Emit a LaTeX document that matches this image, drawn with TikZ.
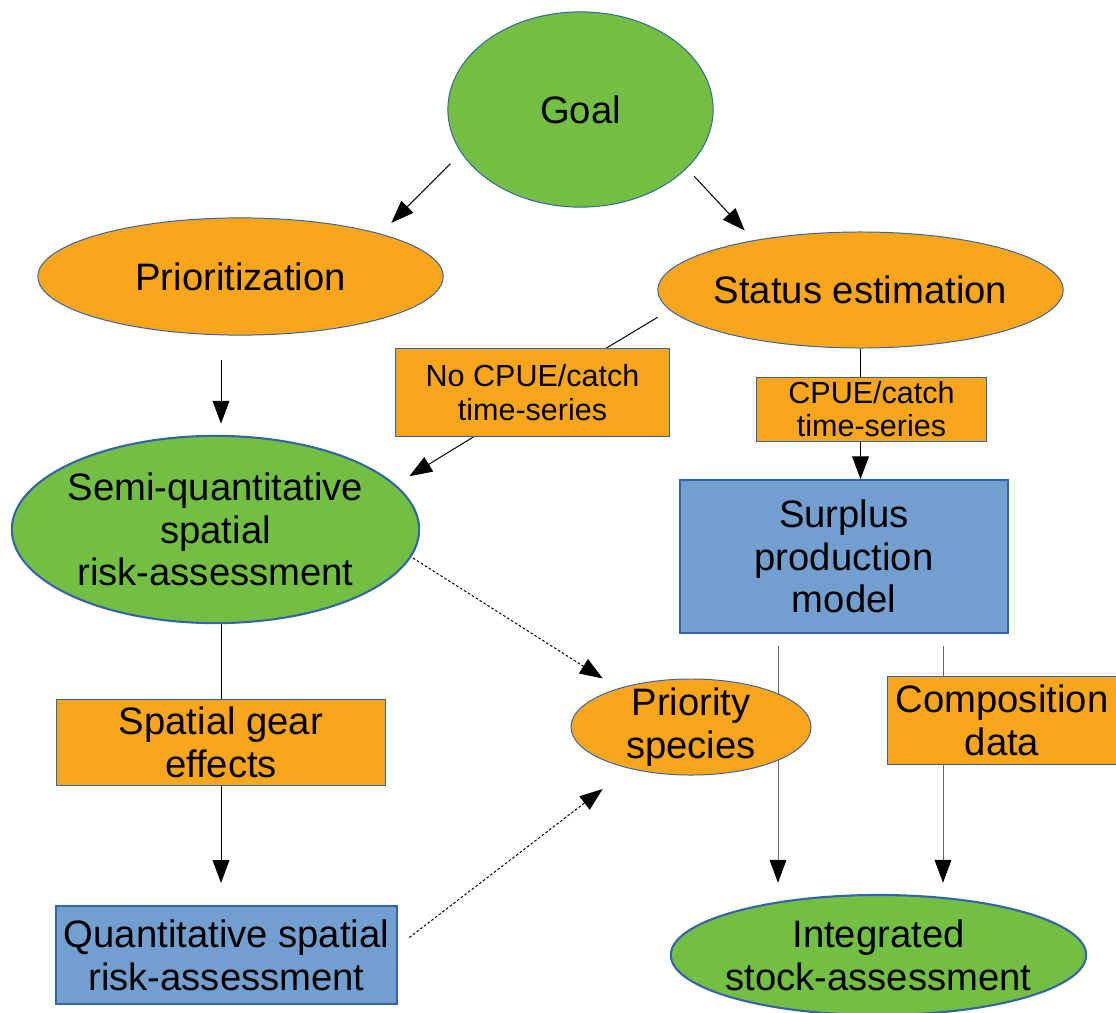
\documentclass[tikz,border=0pt]{standalone}
\usepackage{fontspec}
\setmainfont{Liberation Sans}
\usepackage{xcolor}
\usetikzlibrary{arrows.meta,calc,backgrounds,shapes.geometric}
\definecolor{pgreen}{HTML}{72BF44}
\definecolor{porange}{HTML}{F9A61C}
\definecolor{pblue}{HTML}{729FCF}
\definecolor{pblued}{HTML}{3465A4}
\colorlet{dgray}{black!60}
\newcommand{\nodefont}{\fontsize{27.2}{30.4}\selectfont}
\newcommand{\tagfont}{\fontsize{21.7}{23.6}\selectfont}
\tikzset{
  % Filled shape with a thin blue stroke; its size is set per node.
  oval/.style  = {ellipse, draw=pblued, fill=#1, line width=0.7pt, inner sep=-15pt,
                  align=center, font=\nodefont},
  oval/.default = porange,
  blk/.style   = {rectangle, draw=pblued, fill=#1, line width=0.7pt, inner sep=0pt,
                  align=center, font=\nodefont},
  blk/.default = porange,
  tag/.style   = {rectangle, draw=pblued, fill=porange, line width=0.7pt, inner sep=0pt,
                  align=center, font=\tagfont},
  sz/.style 2 args = {minimum width=#1, minimum height=#2},
  heavy/.style = {line width=1.5pt},
  lane/.style  = {line width=0.7pt},
  arr/.style   = {-{Triangle[length=5.7mm,width=4.2mm,color=black]}, line width=0.7pt},
  hint/.style  = {arr, dash pattern=on 1.8pt off 1.5pt},
}

\begin{document}
\begin{tikzpicture}[x=0.025cm,y=-0.025cm]
\useasboundingbox (0,0) rectangle (1116,1012);
% --- goal and the two branches ------------------------------------------
\node[oval=pgreen, sz={6.63cm}{4.88cm}] (goal) at (580.5,109.5) {Goal};
\node[oval, sz={10.13cm}{2.93cm}] (prio)   at (240.5,276.5) {Prioritization};
\node[oval, sz={10.13cm}{2.9cm}]  (status) at (860.5,290)   {Status estimation};
\node[tag, sz={6.83cm}{2.18cm}] (nocpue) at (532.5,392.5) {No CPUE/catch\\time-series};
\node[tag, sz={5.73cm}{1.6cm}]  (cpue)   at (871.5,409)   {CPUE/catch\\time-series};
% --- middle row -----------------------------------------------------------
\node[oval=pgreen, heavy, sz={10.18cm}{4.68cm}] (semi) at (215.5,529.5)
      {Semi-quantitative\\spatial\\risk-assessment};
\node[blk=pblue, line width=1pt, sz={8.2cm}{3.83cm}] (surplus) at (844,556.5)
      {Surplus\\production\\model};
\node[blk, sz={8.2cm}{2.15cm}] (gear)  at (221,742)  {Spatial gear\\effects};
\node[oval, sz={6cm}{2.4cm}]   (prisp) at (691,727)  {Priority\\species};
\node[blk, sz={5.7cm}{2.2cm}]  (comp)  at (1002,720) {Composition\\data};
% --- bottom row -----------------------------------------------------------
\node[blk=pblue, heavy, sz={8.53cm}{2.45cm}] (quant) at (226.5,955)
      {Quantitative spatial\\risk-assessment};
\node[oval=pgreen, heavy, sz={10.38cm}{3cm}] (intg) at (878.5,955)
      {Integrated\\stock-assessment};
% --- connectors, kept under the nodes -------------------------------------
\coordinate (lcol) at ($(surplus.south)+(-66,0)$);
\coordinate (rcol) at ($(surplus.south)+(99,0)$);
\begin{scope}[on background layer]
\draw[arr, shorten <=0.38cm, shorten >=0.38cm] (goal.200) -- (prio.17);
\draw[arr, shorten <=0.27cm, shorten >=0.33cm] (goal.331) -- (status.155);
\draw[arr, shorten <=0.62cm, shorten >=0.28cm] (prio.south -| gear) -- (semi.north -| gear);
\draw[lane, shorten <=0.35cm] (status.186) -- (nocpue);
\draw[arr, shorten >=0.4cm] (nocpue.217) -- (semi.14);
\draw[lane] (status.south) -- (status.south |- cpue.north);
\draw[arr] (cpue.south -| status) -- (surplus.north -| status);
\draw[lane] (semi.south -| gear) -- (gear.north);
\draw[arr, shorten >=0.55cm] (gear.south) -- (quant.north -| gear);
\draw[hint, shorten <=0.05cm, shorten >=0.46cm] (semi.352) -- (prisp.152);
\draw[hint, shorten <=0.35cm, shorten >=0.84cm] (quant.3) -- (prisp.214);
\draw[arr, dgray, shorten <=0.3cm, shorten >=0.28cm] (lcol) -- (lcol |- intg.north);
\draw[lane, dgray, shorten <=0.3cm] (rcol) -- (rcol |- comp.north);
\draw[arr, dgray, shorten >=0.28cm] (comp.south -| rcol) -- (rcol |- intg.north);
\end{scope}
\end{tikzpicture}
\end{document}
